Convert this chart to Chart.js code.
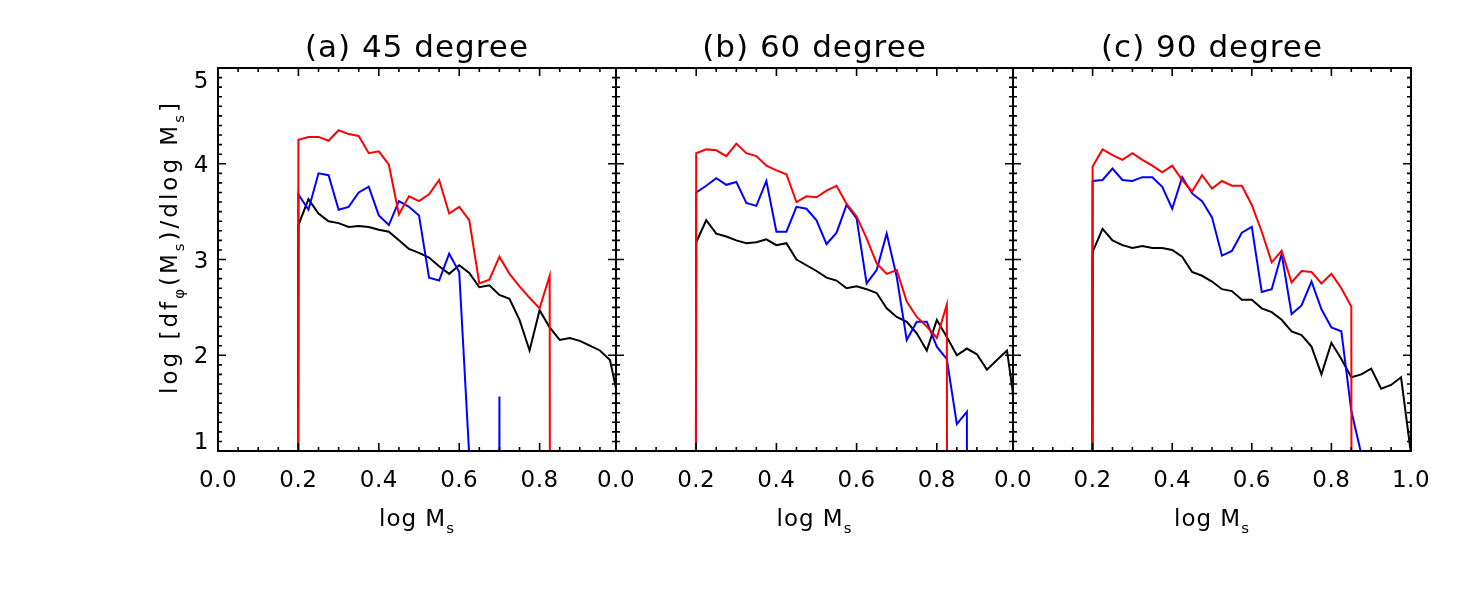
<!DOCTYPE html>
<html>
<head>
<meta charset="utf-8">
<script src="https://cdn.jsdelivr.net/npm/chart.js@4/dist/chart.umd.min.js"></script>
<style>
body { margin: 0; background: #fff; }
#wrap { position: relative; width: 1475px; height: 590px; }
canvas { position: absolute; left: 0; top: 0; }
</style>
</head>
<body>
<div id="wrap">
  <canvas id="c0" width="1475" height="590"></canvas>
  <canvas id="c1" width="1475" height="590"></canvas>
  <canvas id="c2" width="1475" height="590"></canvas>
</div>
<script>
// empty bins (log of zero) -> far below the axis
const E = -99;

const logMs = [0.175, 0.2, 0.225, 0.25, 0.275, 0.3, 0.325, 0.35, 0.375, 0.4, 0.425, 0.45, 0.475, 0.5,
    0.525, 0.55, 0.575, 0.6, 0.625, 0.65, 0.675, 0.7, 0.725, 0.75, 0.775, 0.8, 0.825, 0.85, 0.875,
    0.9, 0.925, 0.95, 0.975, 1.0];

const titles = ['(a) 45 degree', '(b) 60 degree', '(c) 90 degree'];

const black45 = [E, 3.36, 3.63, 3.48, 3.40, 3.38, 3.34, 3.35, 3.34, 3.31, 3.29, 3.20, 3.11, 3.07, 3.02, 2.93, 2.85, 2.94,
    2.86, 2.71, 2.73, 2.63, 2.59, 2.37, 2.05, 2.47, 2.29, 2.16, 2.18, 2.15, 2.10, 2.05, 1.95, 1.46];
const blue45 = [E, 3.68, 3.52, 3.90, 3.88, 3.52, 3.55, 3.70, 3.76, 3.46, 3.36, 3.61, 3.55, 3.46, 2.81, 2.78, 3.06, 2.87,
    0.95, E, E, 1.57, E, E, E, E, E, E, E, E, E, E, E, E];
const red45 = [E, 4.25, 4.28, 4.28, 4.24, 4.35, 4.31, 4.29, 4.11, 4.13, 3.99, 3.47, 3.66, 3.61, 3.68, 3.83, 3.48, 3.55,
    3.41, 2.75, 2.79, 3.03, 2.85, 2.72, 2.60, 2.49, 2.83, E, E, E, E, E, E, E];

const black60 = [E, 3.18, 3.41, 3.27, 3.24, 3.20, 3.17, 3.18, 3.21, 3.15, 3.17, 3.00, 2.94, 2.88, 2.81, 2.78, 2.70, 2.72,
    2.69, 2.65, 2.49, 2.40, 2.35, 2.23, 2.05, 2.37, 2.19, 2.00, 2.07, 2.01, 1.85, 1.95, 2.05, 1.30];
const blue60 = [E, 3.70, 3.77, 3.85, 3.78, 3.81, 3.59, 3.56, 3.82, 3.29, 3.29, 3.55, 3.53, 3.41, 3.16, 3.28, 3.57, 3.43,
    2.75, 2.89, 3.27, 2.82, 2.16, 2.35, 2.35, 2.09, 1.96, 1.28, 1.41, E, E, E, E, E];
const red60 = [E, 4.11, 4.15, 4.14, 4.08, 4.21, 4.11, 4.08, 3.98, 3.93, 3.89, 3.60, 3.66, 3.65, 3.72, 3.77, 3.58, 3.45,
    3.22, 2.96, 2.85, 2.89, 2.56, 2.40, 2.30, 2.18, 2.53, E, E, E, E, E, E, E];

const black90 = [E, 3.08, 3.32, 3.20, 3.15, 3.12, 3.14, 3.12, 3.12, 3.10, 3.03, 2.87, 2.83, 2.77, 2.69, 2.67, 2.58, 2.58,
    2.49, 2.45, 2.37, 2.25, 2.21, 2.09, 1.80, 2.13, 1.96, 1.77, 1.80, 1.86, 1.65, 1.69, 1.77, 0.97];
const blue90 = [E, 3.82, 3.83, 3.95, 3.83, 3.82, 3.86, 3.86, 3.76, 3.53, 3.86, 3.69, 3.61, 3.44, 3.04, 3.09, 3.28, 3.34,
    2.66, 2.69, 3.06, 2.43, 2.52, 2.77, 2.48, 2.29, 2.25, 1.42, 0.97, E, E, E, E, E];
const red90 = [E, 3.97, 4.15, 4.09, 4.04, 4.11, 4.04, 3.98, 3.91, 3.98, 3.83, 3.71, 3.88, 3.74, 3.82, 3.77, 3.77, 3.57,
    3.29, 2.97, 3.09, 2.76, 2.88, 2.87, 2.75, 2.85, 2.70, 2.51, E, E, E, E, E, E];

const xTicksAB = [0.0, 0.2, 0.4, 0.6, 0.8];
const xTicksC = [0.0, 0.2, 0.4, 0.6, 0.8, 1.0];
const yTicks = [1, 2, 3, 4, 5];

const yTitle = [['log [df'], ['\u03c6', 1], ['(M'], ['s', 1], [')/dlog M'], ['s', 1], [']']];
const xTitle = [['log M'], ['s', 1]];

const W = 1475, H = 590, TOP = 68, BOTTOM = 451;
const FONT = '"DejaVu Sans", sans-serif';
const font = size => `${size}px ${FONT}`;

const richWidth = (ctx, parts, size) => parts.reduce((w, p) => {
    ctx.font = font(p[1] ? size * 0.65 : size);
    return w + ctx.measureText(p[0]).width;
}, 0);

const drawRich = (ctx, parts, x, y, size) => {
    let cx = x - richWidth(ctx, parts, size) / 2;
    ctx.textAlign = 'left';
    ctx.textBaseline = 'alphabetic';
    parts.forEach(p => {
        ctx.font = font(p[1] ? size * 0.65 : size);
        ctx.fillText(p[0], cx, p[1] ? y + size * 0.3 : y);
        cx += ctx.measureText(p[0]).width;
    });
};

// box, inward ticks, labels, titles
const framePlugin = {
    id: 'frame',
    afterDatasetsDraw(chart, args, opts) {
        const ctx = chart.ctx;
        const a = chart.chartArea;
        const xs = chart.scales.x, ys = chart.scales.y;
        ctx.save();
        ctx.strokeStyle = '#000';
        ctx.fillStyle = '#000';
        ctx.lineWidth = 1.6;
        ctx.beginPath();
        for (let i = 0; i * 0.05 <= xs.max + 1e-9; i++) {
            const px = xs.getPixelForValue(i * 0.05);
            const len = i % 4 === 0 ? 8 : 4;
            ctx.moveTo(px, a.bottom); ctx.lineTo(px, a.bottom - len);
            ctx.moveTo(px, a.top); ctx.lineTo(px, a.top + len);
        }
        for (let i = 0; ys.min + i * 0.1 <= ys.max + 1e-9; i++) {
            const py = ys.getPixelForValue(ys.min + i * 0.1);
            const len = i % 10 === 0 ? 8 : 4;
            ctx.moveTo(a.left, py); ctx.lineTo(a.left + len, py);
            ctx.moveTo(a.right, py); ctx.lineTo(a.right - len, py);
        }
        ctx.stroke();
        ctx.lineWidth = 2;
        ctx.strokeRect(a.left, a.top, a.right - a.left, a.bottom - a.top);

        ctx.font = font(23);
        ctx.letterSpacing = '0.5px';
        ctx.textAlign = 'center';
        ctx.textBaseline = 'alphabetic';
        opts.xTicks.forEach(v => {
            ctx.fillText(v.toFixed(1), xs.getPixelForValue(v), a.bottom + 36);
        });

        if (opts.yLabels) {
            ctx.textAlign = 'right';
            yTicks.forEach(v => {
                let py = ys.getPixelForValue(v);
                py = Math.min(Math.max(py, a.top + 12), a.bottom - 10);
                ctx.fillText(String(v), a.left - 9, py + 8);
            });
            ctx.save();
            ctx.translate(177, 247);
            ctx.rotate(-Math.PI / 2);
            ctx.letterSpacing = '3px';
            drawRich(ctx, yTitle, 0, 0, 23);
            ctx.restore();
        }

        const mid = (a.left + a.right) / 2;
        ctx.letterSpacing = '1px';
        drawRich(ctx, xTitle, mid, 526, 23);
        ctx.font = font(31);
        ctx.textAlign = 'center';
        ctx.fillText(opts.title, mid, 57);
        ctx.restore();
    }
};

const toPoints = ys => logMs.map((x, i) => ({x: x, y: ys[i]}));

const makePanel = (id, title, black, blue, red, left, right, xMax, xTicks, yLabels) => new Chart(document.getElementById(id), {
    type: 'line',
    data: {
        datasets: [
            {data: toPoints(red), borderColor: 'rgb(255,0,0)', clip: 0},
            {data: toPoints(blue), borderColor: 'rgb(0,0,255)', clip: 0},
            {data: toPoints(black), borderColor: '#000', clip: 0}
        ]
    },
    options: {
        responsive: false,
        animation: false,
        events: [],
        elements: {
            line: {borderWidth: 2, tension: 0, fill: false},
            point: {radius: 0}
        },
        layout: {
            autoPadding: false,
            padding: {left: left, right: W - right, top: TOP, bottom: H - BOTTOM}
        },
        plugins: {
            legend: {display: false},
            tooltip: {enabled: false},
            frame: {title: title, xTicks: xTicks, yLabels: yLabels}
        },
        scales: {
            x: {type: 'linear', min: 0, max: xMax, display: false},
            y: {type: 'linear', min: 1, max: 5, display: false}
        }
    },
    plugins: [framePlugin]
});

makePanel('c0', titles[0], black45, blue45, red45, 218, 616, 0.99, xTicksAB, true);
makePanel('c1', titles[1], black60, blue60, red60, 616, 1013, 0.99, xTicksAB, false);
makePanel('c2', titles[2], black90, blue90, red90, 1013, 1411, 1.0, xTicksC, false);
</script>
</body>
</html>
